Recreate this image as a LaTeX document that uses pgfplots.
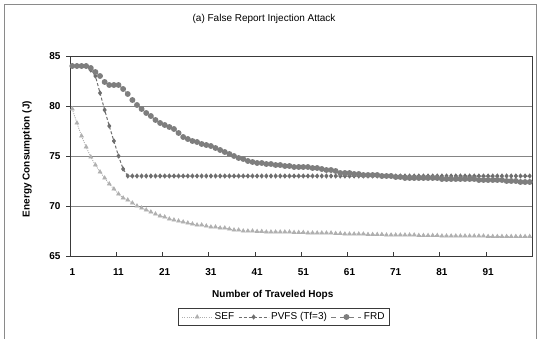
\documentclass[border=0pt]{standalone}
\usepackage{pgfplots}
\pgfplotsset{compat=1.18}
\usepackage{pgfplotstable}
\usepackage{fontspec}
\setmainfont{Liberation Sans}
\definecolor{sefc}{HTML}{B0B0B0}
\definecolor{pvfsc}{HTML}{6E6E6E}
\definecolor{frdc}{HTML}{7E7E7E}
\definecolor{gridc}{HTML}{858585}
\definecolor{axc}{HTML}{3A3A3A}
\definecolor{framec}{HTML}{8A8A8A}

\pgfplotstableread{
x sef pvfs frd
1 79.7 84.0 84.0
2 78.3 84.0 84.0
3 77.0 84.0 84.0
4 75.9 84.0 84.0
5 74.9 83.6 83.8
6 74.1 83.0 83.4
7 73.4 81.3 83.0
8 72.8 79.6 82.4
9 72.2 78.0 82.1
10 71.7 76.5 82.1
11 71.2 75.0 82.1
12 70.8 73.7 81.7
13 70.6 73.0 81.2
14 70.3 73.0 80.6
15 70.0 73.0 80.1
16 69.8 73.0 79.7
17 69.6 73.0 79.3
18 69.4 73.0 79.0
19 69.2 73.0 78.6
20 69.0 73.0 78.3
21 68.9 73.0 78.1
22 68.7 73.0 77.9
23 68.6 73.0 77.7
24 68.5 73.0 77.3
25 68.4 73.0 76.9
26 68.3 73.0 76.7
27 68.2 73.0 76.5
28 68.1 73.0 76.4
29 68.1 73.0 76.2
30 68.0 73.0 76.1
31 67.9 73.0 76.0
32 67.9 73.0 75.8
33 67.8 73.0 75.6
34 67.8 73.0 75.4
35 67.7 73.0 75.2
36 67.6 73.0 75.0
37 67.6 73.0 74.8
38 67.5 73.0 74.7
39 67.5 73.0 74.5
40 67.5 73.0 74.4
41 67.45 73.0 74.3
42 67.45 73.0 74.3
43 67.4 73.0 74.2
44 67.4 73.0 74.2
45 67.4 73.0 74.1
46 67.4 73.0 74.1
47 67.4 73.0 74.0
48 67.4 73.0 74.0
49 67.35 73.0 73.9
50 67.35 73.0 73.9
51 67.35 73.0 73.9
52 67.3 73.0 73.9
53 67.3 73.0 73.8
54 67.3 73.0 73.8
55 67.3 73.0 73.7
56 67.3 73.0 73.6
57 67.3 73.0 73.6
58 67.25 73.0 73.5
59 67.25 73.0 73.3
60 67.2 73.0 73.3
61 67.2 73.0 73.3
62 67.2 73.0 73.2
63 67.2 73.0 73.2
64 67.2 73.0 73.1
65 67.15 73.0 73.1
66 67.15 73.0 73.1
67 67.15 73.0 73.1
68 67.15 73.0 73.0
69 67.1 73.0 73.0
70 67.1 73.0 73.0
71 67.1 73.0 72.9
72 67.1 73.0 72.9
73 67.1 73.0 72.8
74 67.1 73.0 72.8
75 67.1 73.0 72.8
76 67.05 73.0 72.8
77 67.05 73.0 72.8
78 67.05 73.0 72.8
79 67.05 73.0 72.8
80 67.05 73.0 72.8
81 67.0 73.0 72.7
82 67.0 73.0 72.7
83 67.0 73.0 72.7
84 67.0 73.0 72.7
85 67.0 73.0 72.7
86 67.0 73.0 72.7
87 67.0 73.0 72.7
88 67.0 73.0 72.7
89 67.0 73.0 72.6
90 67.0 73.0 72.6
91 66.95 73.0 72.6
92 66.95 73.0 72.6
93 66.95 73.0 72.6
94 66.95 73.0 72.6
95 66.95 73.0 72.5
96 66.95 73.0 72.5
97 66.95 73.0 72.5
98 66.95 73.0 72.4
99 66.95 73.0 72.4
100 66.95 73.0 72.4
}\data

\begin{document}
\begin{tikzpicture}[x=1pt,y=1pt]
\path[use as bounding box] (0,0) rectangle (540,338);
\draw[framec, line width=0.9pt] (4,-2) rectangle (536,334);
\begin{axis}[
  at={(70pt,82pt)}, anchor=south west,
  scale only axis, width=462pt, height=200pt,
  xmin=0.5, xmax=100.5, ymin=65, ymax=85,
  axis line style={axc, line width=0.8pt},
  ytick={65,70,75,80,85},
  ymajorgrids, grid style={gridc, line width=0.8pt},
  ytick pos=left, xtick pos=bottom,
  y tick style={axc, line width=0.6pt},
  x tick style={axc, line width=0.6pt},
  major tick length=4pt,
  xtick={10.5,20.5,...,90.5},
  xticklabels={},
  xtick align=inside,
  ytick align=outside,
  extra x ticks={1,11,21,31,41,51,61,71,81,91},
  extra x tick labels={1,11,21,31,41,51,61,71,81,91},
  extra x tick style={major tick length=0pt, xticklabel style={yshift=-9pt}},
  /pgf/number format/assume math mode=true,
  tick label style={font=\bfseries\fontsize{10}{12}\selectfont, text=black},
  yticklabel style={xshift=-2pt},
  title={(a) False Report Injection Attack},
  title style={font=\fontsize{10}{12}\selectfont, at={(axis description cs:0.42,1.155)}, anchor=center},
  xlabel={Number of Traveled Hops},
  xlabel style={font=\bfseries\fontsize{10}{12}\selectfont, at={(axis description cs:0.439,-0.195)}, anchor=center},
  ylabel={Energy Consumption (J)},
  ylabel style={font=\bfseries\fontsize{10}{12}\selectfont, at={(axis description cs:-0.093,0.485)}, anchor=center, rotate=0},
  legend columns=3,
  legend style={at={(axis description cs:0.4635,-0.305)}, anchor=center,
    draw=axc, line width=0.6pt, font=\fontsize{10}{12}\selectfont,
    inner xsep=3pt, inner ysep=2pt,
    /tikz/every even column/.append style={column sep=2pt}},
  legend image code/.code={\draw[mark repeat=2,mark phase=2] plot coordinates {(0pt,0pt) (15pt,0pt) (30pt,0pt)};},
]
\addplot[sefc, line width=0.9pt, dash pattern=on 1pt off 1.2pt, mark=triangle*, mark size=2pt, mark options={solid, fill=sefc, draw=sefc}] table[x=x,y=sef] {\data};
\addlegendentry{SEF}
\addplot[pvfsc, line width=1pt, dash pattern=on 3pt off 2pt, mark=diamond*, mark size=1.9pt, mark options={solid, fill=pvfsc, draw=pvfsc}] table[x=x,y=pvfs] {\data};
\addlegendentry{PVFS (Tf=3)}
\addplot[frdc, line width=1pt, dash pattern=on 5pt off 4pt, mark=*, mark size=2.4pt, mark options={solid, fill=frdc, draw=frdc}] table[x=x,y=frd] {\data};
\addlegendentry{FRD}
\end{axis}
\end{tikzpicture}
\end{document}
